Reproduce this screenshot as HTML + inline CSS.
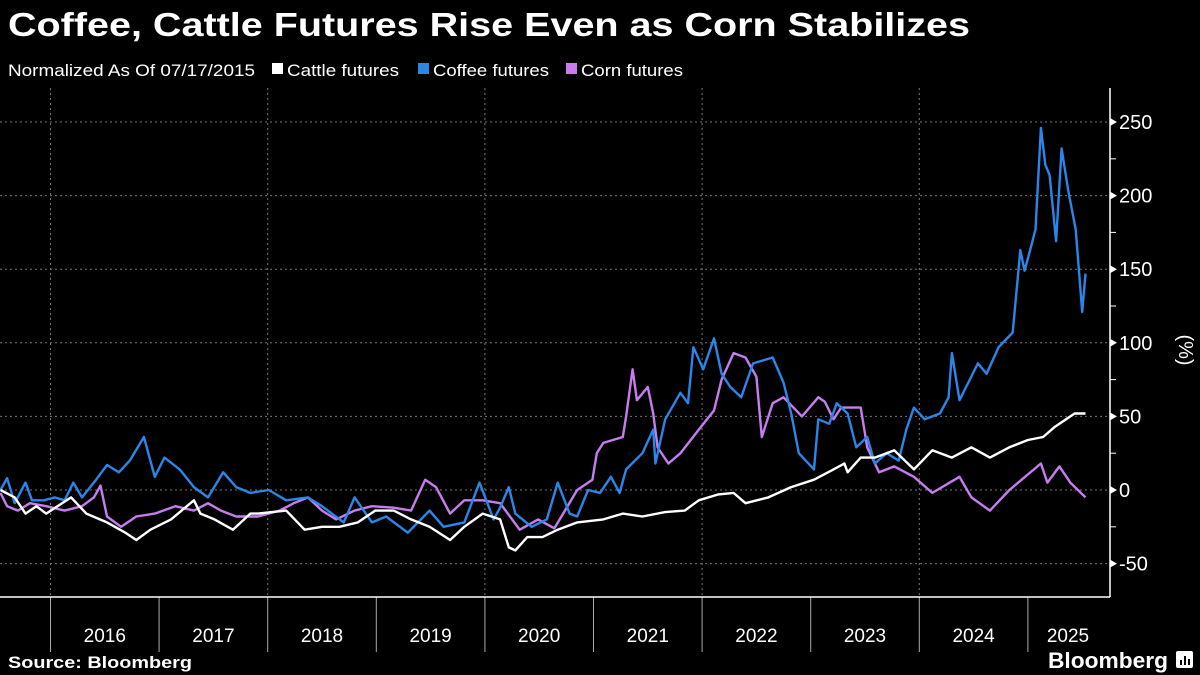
<!DOCTYPE html>
<html><head><meta charset="utf-8">
<style>
html,body{margin:0;padding:0;background:#000;width:1200px;height:675px;overflow:hidden}
svg{display:block}
text{font-family:"Liberation Sans",sans-serif;fill:#fff}
</style></head>
<body>
<svg id="chart" width="1200" height="675" viewBox="0 0 1200 675">
<text x="8" y="36" font-size="33" font-weight="bold" textLength="962" lengthAdjust="spacingAndGlyphs">Coffee, Cattle Futures Rise Even as Corn Stabilizes</text>
<g>
<text x="8" y="76" font-size="17" textLength="247" lengthAdjust="spacingAndGlyphs">Normalized As Of 07/17/2015</text>
<rect x="272" y="63" width="11" height="11" fill="#fff"/>
<text x="287" y="76" font-size="17" textLength="112" lengthAdjust="spacingAndGlyphs">Cattle futures</text>
<rect x="418" y="63" width="11" height="11" fill="#2a86e8"/>
<text x="433" y="76" font-size="17" textLength="116" lengthAdjust="spacingAndGlyphs">Coffee futures</text>
<rect x="566" y="63" width="11" height="11" fill="#c77cf0"/>
<text x="581" y="76" font-size="17" textLength="102" lengthAdjust="spacingAndGlyphs">Corn futures</text>
</g>
<g id="grid"></g>
<g id="axes"></g>
<g id="series"></g>
<text x="8" y="668" font-size="17" font-weight="bold" textLength="184" lengthAdjust="spacingAndGlyphs">Source: Bloomberg</text>
<text x="1048" y="668" font-size="22" font-weight="bold" textLength="120" lengthAdjust="spacingAndGlyphs">Bloomberg</text>
<g>
<rect x="1176" y="651" width="17" height="17" rx="2" fill="#fff"/>
<rect x="1180" y="660" width="2" height="5" fill="#000"/><rect x="1184" y="656" width="2" height="9" fill="#000"/><rect x="1188" y="659" width="2" height="6" fill="#000"/>
</g>
</svg>
<script>
const yearLabels=["2016","2017","2018","2019","2020","2021","2022","2023","2024","2025"];
const yTicks=[-50,0,50,100,150,200,250];
const cattleT=[2015.54,2015.67,2015.77,2015.87,2015.96,2016.19,2016.33,2016.52,2016.69,2016.79,2016.92,2017.11,2017.32,2017.38,2017.51,2017.68,2017.84,2017.91,2018.17,2018.34,2018.50,2018.66,2018.83,2018.99,2019.16,2019.32,2019.49,2019.68,2019.81,2019.98,2020.14,2020.22,2020.28,2020.39,2020.53,2020.67,2020.85,2021.09,2021.27,2021.45,2021.66,2021.84,2021.97,2022.15,2022.29,2022.40,2022.61,2022.82,2023.03,2023.21,2023.31,2023.34,2023.46,2023.59,2023.77,2023.95,2024.12,2024.30,2024.48,2024.65,2024.83,2025.00,2025.14,2025.25,2025.43,2025.53];
const cattleV=[0,-5,-16,-11,-16,-5,-16,-22,-29,-34,-27,-20,-7,-16,-20,-27,-16,-16,-14,-27,-25,-25,-22,-14,-14,-20,-25,-34,-25,-16,-20,-39,-41,-32,-32,-27,-22,-20,-16,-18,-15,-14,-7,-3,-2,-9,-5,2,7,14,18,12,22,22,27,14,27,22,29,22,29,34,36,43,52,52];
const coffeeT=[2015.54,2015.60,2015.67,2015.77,2015.83,2015.94,2016.04,2016.13,2016.21,2016.29,2016.42,2016.52,2016.63,2016.73,2016.86,2016.96,2017.05,2017.19,2017.32,2017.45,2017.59,2017.71,2017.84,2018.01,2018.17,2018.37,2018.50,2018.70,2018.80,2018.96,2019.09,2019.29,2019.49,2019.62,2019.81,2019.95,2020.08,2020.14,2020.22,2020.28,2020.43,2020.57,2020.67,2020.78,2020.85,2020.95,2021.06,2021.16,2021.24,2021.30,2021.45,2021.55,2021.57,2021.66,2021.80,2021.87,2021.92,2022.01,2022.11,2022.18,2022.26,2022.36,2022.47,2022.65,2022.75,2022.82,2022.89,2023.03,2023.07,2023.17,2023.24,2023.34,2023.42,2023.52,2023.59,2023.70,2023.81,2023.88,2023.95,2024.05,2024.19,2024.27,2024.30,2024.37,2024.54,2024.62,2024.73,2024.86,2024.93,2024.97,2025.02,2025.07,2025.12,2025.16,2025.20,2025.26,2025.31,2025.37,2025.44,2025.50,2025.53];
const coffeeV=[0,8,-9,5,-7,-7,-5,-7,5,-5,7,17,12,20,36,9,22,14,2,-5,12,2,-2,0,-7,-5,-11,-22,-5,-22,-18,-29,-14,-25,-22,5,-20,-12,2,-16,-25,-20,5,-16,-18,0,-2,9,-2,14,25,41,18,48,66,59,97,82,103,79,70,63,86,90,73,52,25,14,48,45,59,52,29,36,18,25,20,41,56,48,52,63,93,61,86,79,97,107,163,149,163,177,246,221,214,169,232,204,177,121,147];
const cornT=[2015.54,2015.60,2015.70,2015.81,2015.96,2016.13,2016.29,2016.40,2016.46,2016.52,2016.65,2016.79,2016.96,2017.15,2017.32,2017.45,2017.57,2017.71,2017.91,2018.11,2018.24,2018.37,2018.50,2018.63,2018.80,2018.96,2019.16,2019.32,2019.45,2019.55,2019.68,2019.81,2019.98,2020.14,2020.32,2020.49,2020.64,2020.85,2020.99,2021.03,2021.09,2021.27,2021.30,2021.36,2021.40,2021.50,2021.55,2021.59,2021.69,2021.80,2021.97,2022.11,2022.18,2022.29,2022.40,2022.50,2022.55,2022.65,2022.75,2022.92,2023.07,2023.13,2023.21,2023.28,2023.46,2023.52,2023.63,2023.77,2023.95,2024.12,2024.37,2024.48,2024.65,2024.83,2025.12,2025.18,2025.29,2025.39,2025.53];
const cornV=[-2,-11,-14,-9,-11,-14,-11,-5,3,-18,-25,-18,-16,-11,-14,-9,-14,-18,-18,-14,-9,-5,-14,-20,-14,-11,-12,-14,7,2,-16,-7,-7,-9,-27,-20,-26,0,7,25,32,36,50,82,61,70,52,29,18,25,41,54,75,93,90,77,36,59,63,50,63,60,48,56,56,29,12,16,9,-2,9,-5,-14,0,18,5,16,5,-5];

const NS="http://www.w3.org/2000/svg";
const X0=50.5, YW=108.6, Y0=490, PPU=1.472, RIGHT=1110, BOTTOM=597, TOP=88;
function xS(t){return X0+(t-2016)*YW;}
function yS(v){return Y0-v*PPU;}
function mk(tag,attrs,parent){const e=document.createElementNS(NS,tag);for(const k in attrs)e.setAttribute(k,attrs[k]);parent.appendChild(e);return e;}
const grid=document.getElementById('grid'), axes=document.getElementById('axes'), series=document.getElementById('series');

yTicks.forEach(v=>{
  const l=mk('line',{x1:0,x2:RIGHT,y1:yS(v),y2:yS(v),stroke:'#777','stroke-width':1,'stroke-dasharray':'2,3'},grid);
  
  
  const tr=mk('path',{d:`M${RIGHT} ${yS(v)-4} L${RIGHT+7} ${yS(v)} L${RIGHT} ${yS(v)+4}Z`,fill:'#fff'},axes);
  
  
  const t=mk('text',{x:RIGHT+9,y:yS(v)+7,'font-size':20},axes);
  t.textContent=(v<0?'-':'')+Math.abs(v);
  
  
});
for(let v=-75;v<=275;v+=50){
  if(yS(v)<TOP||yS(v)>BOTTOM)continue;
  const m=mk('line',{x1:RIGHT,x2:RIGHT+6,y1:yS(v),y2:yS(v),stroke:'#fff','stroke-width':1},axes);
  
  
}
yearLabels.forEach((y,i)=>{
  const yr=+y, x=xS(yr);
  if(i%2===0){
    const g=mk('line',{x1:x,x2:x,y1:TOP,y2:BOTTOM,stroke:'#777','stroke-width':1,'stroke-dasharray':'2,3'},grid);
    
    
  }
  const s=mk('line',{x1:x,x2:x,y1:BOTTOM,y2:652,stroke:'#aaa','stroke-width':1},axes);
  
  
  const cx=Math.min(xS(yr+0.5),1068);
  const t=mk('text',{x:cx,y:642,'font-size':19,'text-anchor':'middle'},axes);
  t.textContent=y;
  
  
});
const ax=mk('line',{x1:0,x2:RIGHT,y1:BOTTOM,y2:BOTTOM,stroke:'#fff','stroke-width':1.5},axes);


const ay=mk('line',{x1:RIGHT,x2:RIGHT,y1:TOP,y2:BOTTOM,stroke:'#fff','stroke-width':1.5},axes);


const yt=mk('text',{x:0,y:0,'font-size':20,'text-anchor':'middle',transform:'translate(1179,350) rotate(90)'},axes);
yt.textContent='(%)';



function line(T,V,color,name){
  const d=T.map((t,i)=>(i?'L':'M')+xS(t).toFixed(1)+' '+yS(V[i]).toFixed(1)).join(' ');
  const p=mk('path',{d:d,fill:'none',stroke:color,'stroke-width':2.4,'stroke-linejoin':'round'},series);
  
  
}
line(cornT,cornV,'#c77cf0','corn-futures-line');
line(coffeeT,coffeeV,'#2a86e8','coffee-futures-line');
line(cattleT,cattleV,'#ffffff','cattle-futures-line');
</script>
</body></html>
